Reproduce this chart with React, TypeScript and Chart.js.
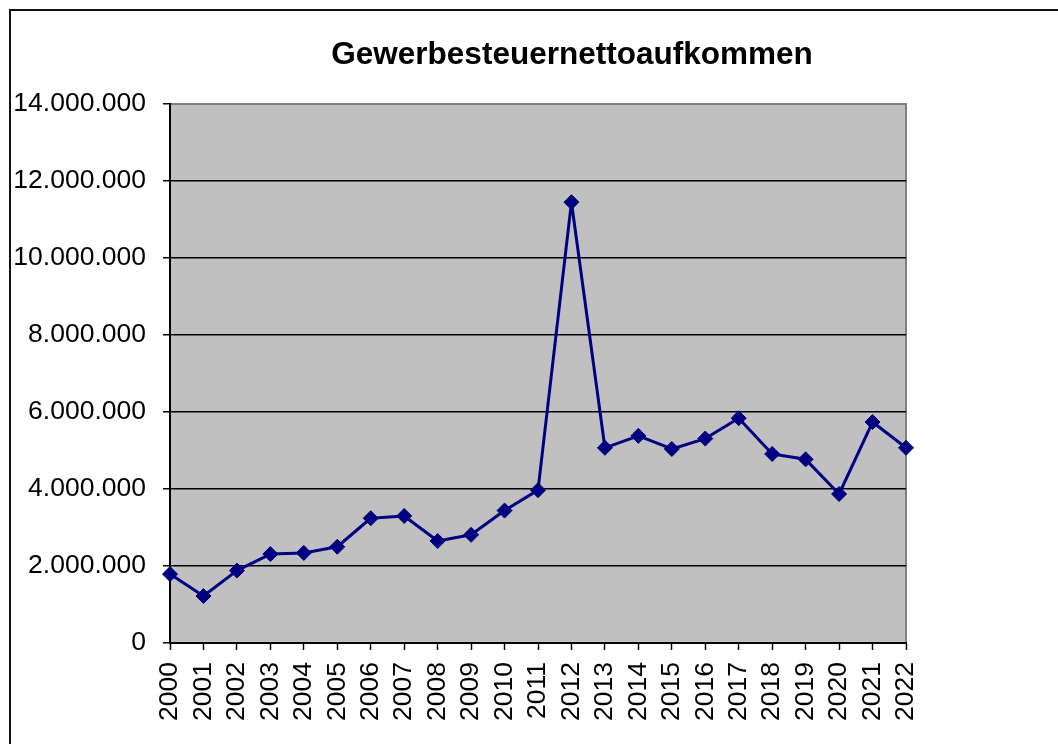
import React, { useEffect, useRef } from 'react';
import { Chart, registerables } from 'chart.js';

Chart.register(...registerables);

const chartTitle = 'Gewerbesteuernettoaufkommen';
const years = ['2000', '2001', '2002', '2003', '2004', '2005', '2006', '2007', '2008', '2009', '2010', '2011', '2012', '2013', '2014', '2015', '2016', '2017', '2018', '2019', '2020', '2021', '2022'];
const revenue = [1790000, 1220000, 1880000, 2310000, 2340000, 2500000, 3240000, 3300000, 2650000, 2810000, 3440000, 3970000, 11450000, 5070000, 5380000, 5040000, 5310000, 5840000, 4910000, 4770000, 3870000, 5740000, 5070000];
const yMin = 0;
const yMax = 14000000;
const yStep = 2000000;

const FONT = '"Liberation Sans", Arial, sans-serif';

function fmt(v: number): string {
  return String(Math.round(v)).replace(/\B(?=(\d{3})+(?!\d))/g, '.');
}

const plotBg = {
  id: 'plotBg',
  beforeDraw(chart: any) {
    const { ctx, chartArea: a } = chart;
    ctx.save();
    ctx.fillStyle = '#C0C0C0';
    ctx.fillRect(a.left, a.top, a.right - a.left, a.bottom - a.top);
    ctx.strokeStyle = '#808080';
    ctx.lineWidth = 2;
    ctx.beginPath();
    ctx.moveTo(a.left, a.top);
    ctx.lineTo(a.right, a.top);
    ctx.lineTo(a.right, a.bottom);
    ctx.stroke();
    ctx.restore();
  },
};

export default function App() {
  const ref = useRef<HTMLCanvasElement | null>(null);

  useEffect(() => {
    if (!ref.current) return;
    const chart = new Chart(ref.current, {
      type: 'line',
      data: {
        labels: years,
        datasets: [
          {
            data: revenue,
            borderColor: '#000080',
            backgroundColor: '#000080',
            borderWidth: 3,
            borderJoinStyle: 'round',
            pointStyle: 'rectRot',
            pointRadius: 7.5,
            pointBackgroundColor: '#000080',
            pointBorderColor: '#000080',
            pointBorderWidth: 1,
            tension: 0,
            clip: false as any,
          },
        ],
      },
      options: {
        responsive: false,
        animation: false,
        devicePixelRatio: 1,
        layout: { padding: { left: 10, right: 10, top: 0, bottom: 6 } },
        plugins: {
          legend: { display: false },
          tooltip: { enabled: false },
          title: {
            display: true,
            text: chartTitle,
            color: '#000',
            font: { size: 31.5, weight: 'bold', family: FONT },
            padding: { top: 36.1, bottom: 30.1 },
          },
        },
        scales: {
          x: {
            type: 'category',
            offset: false,
            grid: {
              drawOnChartArea: false,
              drawTicks: true,
              tickLength: 7,
              tickColor: '#000',
              tickWidth: 1.5,
            },
            border: { display: true, color: '#000', width: 2 },
            ticks: {
              minRotation: 90,
              maxRotation: 90,
              autoSkip: false,
              padding: 12,
              color: '#000',
              font: { size: 26.5, family: FONT },
            },
            afterFit(s: any) {
              s.height = 95;
            },
          },
          y: {
            min: yMin,
            max: yMax,
            ticks: {
              stepSize: yStep,
              padding: 17,
              color: '#000',
              font: { size: 26.5, family: FONT },
              callback: (v: any) => fmt(Number(v)),
            },
            grid: {
              color: (c: any) => (c.tick && c.tick.value === yMax ? '#808080' : '#000'),
              lineWidth: 1.5,
              drawTicks: true,
              tickLength: 7,
              tickColor: '#000',
              tickWidth: 1.5,
            },
            border: { display: true, color: '#000', width: 2 },
            afterFit(s: any) {
              s.width = 160;
            },
          },
          yR: {
            type: 'linear',
            position: 'right',
            display: true,
            grid: { display: false },
            border: { display: false },
            ticks: { display: false },
            afterFit(s: any) {
              s.width = 228;
            },
          },
        },
      } as any,
      plugins: [plotBg],
    });
    return () => chart.destroy();
  }, []);

  return (
    <div
      style={{
        position: 'fixed',
        left: 0,
        top: 0,
        width: 1058,
        height: 744,
        overflow: 'hidden',
        background: '#fff',
      }}
    >
      <div
        style={{
          position: 'absolute',
          left: 9,
          top: 9,
          width: 1200,
          height: 900,
          borderLeft: '2px solid #111',
          borderTop: '2px solid #111',
        }}
      />
      <canvas
        ref={ref}
        width={1144}
        height={744}
        style={{ position: 'absolute', left: 0, top: 0, width: 1144, height: 744 }}
      />
    </div>
  );
}
